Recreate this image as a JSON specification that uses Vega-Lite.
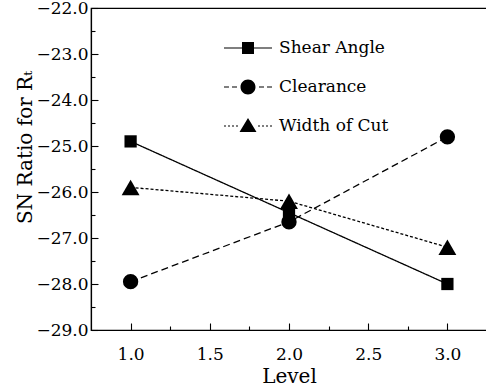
{
  "$schema": "https://vega.github.io/schema/vega-lite/v6.json",
  "autosize": "none",
  "padding": {"left": 91, "top": 8, "right": 0, "bottom": 60},
  "width": 396,
  "height": 322,
  "background": "white",
  "config": {
    "view": {"stroke": "black", "strokeWidth": 1.2},
    "font": "DejaVu Serif",
    "axis": {
      "grid": false,
      "domainColor": "black",
      "domainWidth": 1.2,
      "tickColor": "black",
      "tickWidth": 1.1,
      "labelColor": "black",
      "labelFont": "DejaVu Serif",
      "labelFontSize": 17,
      "titleColor": "black",
      "titleFont": "DejaVu Serif",
      "titleFontSize": 20,
      "titleFontWeight": "normal"
    },
    "legend": {
      "labelFont": "DejaVu Serif",
      "labelFontSize": 17,
      "labelColor": "black"
    }
  },
  "data": {
    "values": [
      {"level": 1, "factor": "Shear Angle", "sn": -24.9},
      {"level": 2, "factor": "Shear Angle", "sn": -26.45},
      {"level": 3, "factor": "Shear Angle", "sn": -28.0},
      {"level": 1, "factor": "Clearance", "sn": -27.95},
      {"level": 2, "factor": "Clearance", "sn": -26.65},
      {"level": 3, "factor": "Clearance", "sn": -24.8},
      {"level": 1, "factor": "Width of Cut", "sn": -25.9},
      {"level": 2, "factor": "Width of Cut", "sn": -26.2},
      {"level": 3, "factor": "Width of Cut", "sn": -27.2}
    ]
  },
  "encoding": {
    "x": {
      "field": "level",
      "type": "quantitative",
      "scale": {"domain": [0.75, 3.25], "nice": false, "zero": false},
      "axis": {
        "title": "Level",
        "values": [1, 1.25, 1.5, 1.75, 2, 2.25, 2.5, 2.75, 3],
        "labelExpr": "datum.value * 2 % 1 === 0 ? format(datum.value, '.1f') : ''",
        "tickSize": {"condition": {"test": "datum.value * 2 % 1 === 0", "value": -7}, "value": -4},
        "labelPadding": 23,
        "titlePadding": 4
      }
    },
    "y": {
      "field": "sn",
      "type": "quantitative",
      "scale": {"domain": [-29, -22], "nice": false, "zero": false},
      "axis": {
        "title": "SN Ratio for Rₜ",
        "values": [-29, -28.5, -28, -27.5, -27, -26.5, -26, -25.5, -25, -24.5, -24, -23.5, -23, -22.5, -22],
        "labelExpr": "datum.value % 1 === 0 ? format(datum.value, '.1f') : ''",
        "tickSize": {"condition": {"test": "datum.value % 1 === 0", "value": -7}, "value": -4},
        "labelPadding": 10,
        "titleX": -56,
        "titleY": 139
      }
    }
  },
  "layer": [
    {
      "mark": {"type": "line", "color": "black", "strokeWidth": 1.3},
      "encoding": {
        "strokeDash": {
          "field": "factor",
          "type": "nominal",
          "scale": {
            "domain": ["Shear Angle", "Clearance", "Width of Cut"],
            "range": [[1, 0], [7, 4], [3, 2]]
          },
          "legend": null
        }
      }
    },
    {
      "mark": {"type": "point", "filled": true, "color": "black", "opacity": 1},
      "encoding": {
        "shape": {
          "field": "factor",
          "type": "nominal",
          "scale": {
            "domain": ["Shear Angle", "Clearance", "Width of Cut"],
            "range": ["square", "circle", "triangle-up"]
          },
          "legend": null
        },
        "size": {
          "field": "factor",
          "type": "nominal",
          "scale": {
            "domain": ["Shear Angle", "Clearance", "Width of Cut"],
            "range": [150, 320, 300]
          },
          "legend": null
        }
      }
    },
    {
      "description": "Key layer: solid, dashed and dotted strokes with their markers, only feeding the legend",
      "mark": {
        "type": "point",
        "filled": true,
        "fill": "black",
        "opacity": 0,
        "size": 2304
      },
      "encoding": {
        "shape": {
          "field": "factor",
          "type": "nominal",
          "scale": {
            "domain": ["Shear Angle", "Clearance", "Width of Cut"],
            "range": [
              "M-1,-0.025H1V0.025H-1ZM-0.25,-0.25H0.25V0.25H-0.25Z",
              "M-1,-0.025H-0.792V0.025H-1ZM-0.667,-0.025H-0.458V0.025H-0.667ZM0.458,-0.025H0.667V0.025H0.458ZM0.792,-0.025H1V0.025H0.792ZM-0.3125,0A0.3125,0.3125,0,1,1,0.3125,0A0.3125,0.3125,0,1,1,-0.3125,0Z",
              "M-1,-0.025H-0.917V0.025H-1ZM-0.833,-0.025H-0.75V0.025H-0.833ZM-0.667,-0.025H-0.583V0.025H-0.667ZM-0.5,-0.025H-0.417V0.025H-0.5ZM0.417,-0.025H0.5V0.025H0.417ZM0.583,-0.025H0.667V0.025H0.583ZM0.75,-0.025H0.833V0.025H0.75ZM0.917,-0.025H1V0.025H0.917ZM0,-0.333L0.354,0.25L-0.354,0.25Z"
            ]
          },
          "legend": {
            "title": null,
            "orient": "none",
            "legendX": 133,
            "legendY": 16,
            "symbolSize": 2304,
            "symbolStrokeWidth": 0,
            "symbolFillColor": "black",
            "symbolOpacity": 1,
            "labelOffset": 7,
            "rowPadding": 7
          }
        }
      }
    }
  ],
  "resolve": {"scale": {"shape": "independent"}}
}
